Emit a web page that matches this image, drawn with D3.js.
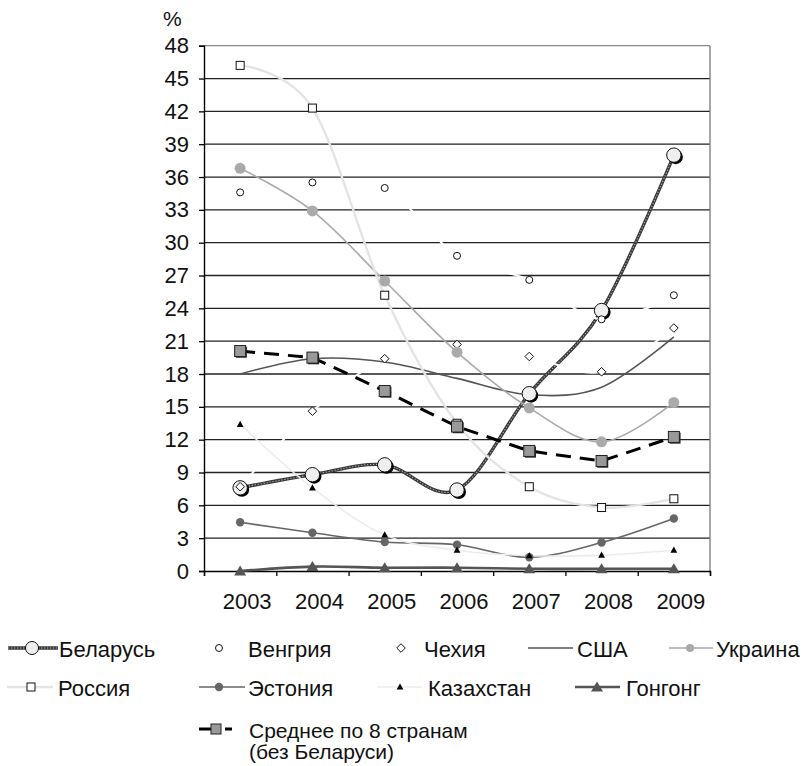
<!DOCTYPE html>
<html>
<head>
<meta charset="utf-8">
<script src="https://cdn.jsdelivr.net/npm/d3@7"></script>
<style>
  html, body { margin: 0; padding: 0; background: #fff; }
  svg { display: block; font-family: "Liberation Sans", Arial, Helvetica, sans-serif; }
</style>
</head>
<body>
<svg id="chart" width="808" height="766"></svg>
<script>
// Years on the horizontal axis
const years = ["2003", "2004", "2005", "2006", "2007", "2008", "2009"];
// Y-axis tick labels, %
const yTicks = [0, 3, 6, 9, 12, 15, 18, 21, 24, 27, 30, 33, 36, 39, 42, 45, 48];

// Series values, %
const belarus    = [7.6, 8.8, 9.7, 7.4, 16.2, 23.8, 38.0];
const hungary    = [34.6, 35.5, 35.0, 28.8, 26.6, 23.0, 25.2];
const czech      = [7.7, 14.6, 19.4, 20.7, 19.6, 18.2, 22.2];
const usa        = [18.0, 19.4, 19.1, 17.6, 16.1, 16.8, 21.4];
const ukraine    = [36.8, 32.9, 26.5, 20.0, 14.9, 11.8, 15.4];
const russia     = [46.2, 42.3, 25.2, 13.5, 7.7, 5.8, 6.6];
const estonia    = [4.45, 3.5, 2.65, 2.4, 1.25, 2.6, 4.8];
const kazakhstan = [13.4, 7.6, 3.3, 1.9, 1.4, 1.45, 1.9];
const hongkong   = [0.0, 0.4, 0.3, 0.3, 0.2, 0.2, 0.2];
const average    = [20.1, 19.5, 16.45, 13.2, 10.97, 10.05, 12.25];

// Series names, in legend order
const names = ["Беларусь", "Венгрия", "Чехия", "США", "Украина",
               "Россия", "Эстония", "Казахстан", "Гонгонг",
               "Среднее по 8 странам", "(без Беларуси)"];

const svg = d3.select("#chart");
const plotLeft = 204, plotRight = 710, plotTop = 45.7, plotBottom = 571;

const x = d3.scaleBand().domain(years).range([plotLeft, plotRight]).padding(0);
const cx = d => x(d) + x.bandwidth() / 2;
const y = d3.scaleLinear().domain([0, 48]).range([plotBottom, plotTop]);

// Styles for each series
const series = [
  { name: names[0], values: belarus,    line: "belarus", curve: "smooth", marker: "bigcircle" },
  { name: names[1], values: hungary,    line: { stroke: "#fff", width: 2 }, curve: "smooth", marker: "circle" },
  { name: names[2], values: czech,      line: { stroke: "#fff", width: 2 }, curve: "smooth", marker: "diamond" },
  { name: names[3], values: usa,        line: { stroke: "#555", width: 1.6 }, curve: "smooth", marker: null },
  { name: names[4], values: ukraine,    line: { stroke: "#aaa", width: 1.6 }, curve: "smooth", marker: "ucircle" },
  { name: names[5], values: russia,     line: { stroke: "#e4e4e4", width: 2.4 }, curve: "smooth", marker: "square" },
  { name: names[6], values: estonia,    line: { stroke: "#666", width: 1.6 }, curve: "smooth", marker: "ecircle" },
  { name: names[7], values: kazakhstan, line: { stroke: "#ececec", width: 1.6 }, curve: "smooth", marker: "smalltri" },
  { name: names[8], values: hongkong,   line: { stroke: "#555", width: 2.6 }, curve: "smooth", marker: "bigtri" },
  { name: names[9], values: average,    line: { stroke: "#000", width: 3, dash: "15,9" }, curve: "linear", marker: "avgsquare" }
];

// ---- gridlines ----
const grid = svg.append("g");
grid.selectAll("line").data(yTicks.filter(v => v > 0)).join("line")
  .attr("x1", plotLeft).attr("x2", plotRight)
  .attr("y1", d => y(d)).attr("y2", d => y(d))
  .attr("stroke", d => d === 48 ? "#8a8a8a" : "#222")
  .attr("stroke-width", 1.3);
// plot-area border on the right
svg.append("line").attr("x1", plotRight).attr("x2", plotRight).attr("y1", plotTop).attr("y2", plotBottom)
  .attr("stroke", "#777").attr("stroke-width", 1.3);

// ---- axes ----
const yAxis = d3.axisLeft(y).tickValues(yTicks).tickSize(5).tickPadding(10).tickFormat(d3.format("d"));
const gy = svg.append("g").attr("transform", `translate(${plotLeft},0)`).call(yAxis);
gy.select(".domain").attr("stroke", "#000").attr("stroke-width", 1.4);
gy.selectAll(".tick line").attr("stroke", "#000").attr("stroke-width", 1.3);
gy.selectAll(".tick text").attr("font-size", 22).attr("fill", "#111")
  .attr("font-family", "'Liberation Sans', Arial, sans-serif");

const xb = d3.scaleLinear().domain([0, years.length]).range([plotLeft, plotRight]);
const xAxis = d3.axisBottom(xb).tickValues(d3.range(0, years.length + 1)).tickSize(5).tickFormat("");
const gx = svg.append("g").attr("transform", `translate(0,${plotBottom})`).call(xAxis);
gx.select(".domain").attr("stroke", "#000").attr("stroke-width", 1.4);
gx.selectAll(".tick line").attr("stroke", "#000").attr("stroke-width", 1.3);
svg.append("g").selectAll("text").data(years).join("text")
  .attr("x", d => cx(d) + 7).attr("y", 609)
  .attr("text-anchor", "middle").attr("font-size", 22).attr("fill", "#111")
  .text(d => d);

svg.append("text").attr("x", 163).attr("y", 26).attr("font-size", 21).attr("fill", "#111").text("%");

// ---- lines ----
const gen = {
  smooth: d3.line().x((d, i) => cx(years[i])).y(d => y(d)).curve(d3.curveCardinal.tension(0)),
  linear: d3.line().x((d, i) => cx(years[i])).y(d => y(d)).curve(d3.curveLinear)
};
const gl = svg.append("g");
series.forEach(s => {
  const p = gen[s.curve](s.values);
  if (s.line === "belarus") {
    gl.append("path").attr("d", p).attr("fill", "none").attr("stroke", "#3a3a3a").attr("stroke-width", 3.4);
    gl.append("path").attr("d", p).attr("fill", "none").attr("stroke", "#b5b5b5")
      .attr("stroke-width", 1.1).attr("stroke-dasharray", "1.2,1.8");
  } else {
    gl.append("path").attr("d", p).attr("fill", "none")
      .attr("stroke", s.line.stroke).attr("stroke-width", s.line.width)
      .attr("stroke-dasharray", s.line.dash || null);
  }
});

// ---- markers ----
function marker(g, type, px, py, legend) {
  switch (type) {
    case "bigcircle": {
      const r = legend ? 6.5 : 7.2;
      if (!legend) g.append("circle").attr("cx", px + 1.8).attr("cy", py + 1.8).attr("r", r).attr("fill", "#000");
      g.append("circle").attr("cx", px).attr("cy", py).attr("r", r)
        .attr("fill", "#efefef").attr("stroke", "#111").attr("stroke-width", 1);
      break;
    }
    case "circle":
      g.append("circle").attr("cx", px).attr("cy", py).attr("r", 3.5)
        .attr("fill", "#fff").attr("stroke", "#111").attr("stroke-width", 1);
      break;
    case "ucircle":
      g.append("circle").attr("cx", px).attr("cy", py).attr("r", legend ? 4 : 5.5).attr("fill", "#aaa");
      break;
    case "ecircle":
      g.append("circle").attr("cx", px).attr("cy", py).attr("r", 4.2).attr("fill", "#666");
      break;
    case "diamond": {
      const h = 4.3;
      g.append("path").attr("d", `M${px},${py - h}L${px + h},${py}L${px},${py + h}L${px - h},${py}Z`)
        .attr("fill", "#fff").attr("stroke", "#111").attr("stroke-width", 1);
      break;
    }
    case "square":
      g.append("rect").attr("x", px - 4).attr("y", py - 4).attr("width", 8).attr("height", 8)
        .attr("fill", "#fff").attr("stroke", "#111").attr("stroke-width", 1);
      break;
    case "avgsquare": {
      const s = legend ? 10 : 11;
      if (!legend) g.append("rect").attr("x", px - s / 2 + 1.2).attr("y", py - s / 2 + 1.2)
        .attr("width", s).attr("height", s).attr("fill", "#222");
      g.append("rect").attr("x", px - s / 2).attr("y", py - s / 2).attr("width", s).attr("height", s)
        .attr("fill", "#999").attr("stroke", "#222").attr("stroke-width", 1);
      break;
    }
    case "smalltri":
      g.append("path").attr("d", `M${px},${py - 3.6}L${px + 3.4},${py + 2.6}L${px - 3.4},${py + 2.6}Z`)
        .attr("fill", "#000");
      break;
    case "bigtri":
      g.append("path").attr("d", `M${px},${py - 5.5}L${px + 6},${py + 4.5}L${px - 6},${py + 4.5}Z`)
        .attr("fill", "#555");
      break;
  }
}
const gm = svg.append("g");
series.forEach(s => {
  if (!s.marker) return;
  s.values.forEach((v, i) => marker(gm, s.marker, cx(years[i]), y(v), false));
});

// ---- legend ----
const lg = svg.append("g").attr("font-size", 22).attr("fill", "#111");
const legendItems = [
  { s: 0, x1: 8,   x2: 58,  mx: 32,  cy: 648, tx: 59,  ty: 656.5 },
  { s: 1, x1: null,         mx: 219, cy: 648, tx: 248, ty: 656.5 },
  { s: 2, x1: null,         mx: 401, cy: 648, tx: 424, ty: 656.5 },
  { s: 3, x1: 528, x2: 573, mx: null, cy: 648, tx: 577, ty: 656.5 },
  { s: 4, x1: 669, x2: 713, mx: 690, cy: 648, tx: 716, ty: 656.5 },
  { s: 5, x1: 7,   x2: 53,  mx: 31,  cy: 687, tx: 58,  ty: 695.5 },
  { s: 6, x1: 199, x2: 245, mx: 219, cy: 687, tx: 248, ty: 695.5 },
  { s: 7, x1: 377, x2: 422, mx: 400, cy: 687, tx: 428, ty: 695.5 },
  { s: 8, x1: 575, x2: 620, mx: 597, cy: 687, tx: 626, ty: 695.5 }
];
legendItems.forEach(it => {
  const s = series[it.s];
  if (it.x1 !== null) {
    const d = `M${it.x1},${it.cy}L${it.x2},${it.cy}`;
    if (s.line === "belarus") {
      lg.append("path").attr("d", d).attr("stroke", "#3a3a3a").attr("stroke-width", 3.4);
      lg.append("path").attr("d", d).attr("stroke", "#b5b5b5").attr("stroke-width", 1.1)
        .attr("stroke-dasharray", "1.2,1.8");
    } else {
      lg.append("path").attr("d", d).attr("stroke", s.line.stroke === "#fff" ? "none" : s.line.stroke)
        .attr("stroke-width", s.line.width);
    }
  }
  if (s.marker && it.mx !== null) marker(lg, s.marker, it.mx, it.cy, true);
  lg.append("text").attr("x", it.tx).attr("y", it.ty).text(s.name);
});
// average: solid piece, square, short dash, two-line label
lg.append("path").attr("d", "M199,729L211,729").attr("stroke", "#000").attr("stroke-width", 3);
lg.append("path").attr("d", "M225,729L232,729").attr("stroke", "#000").attr("stroke-width", 3);
marker(lg, "avgsquare", 216, 729, true);
const avgText = lg.append("text").attr("x", 249).attr("y", 738).attr("font-size", 21);
avgText.append("tspan").attr("x", 249).text(names[9]);
avgText.append("tspan").attr("x", 249).attr("dy", 21).text(names[10]);
</script>
</body>
</html>
